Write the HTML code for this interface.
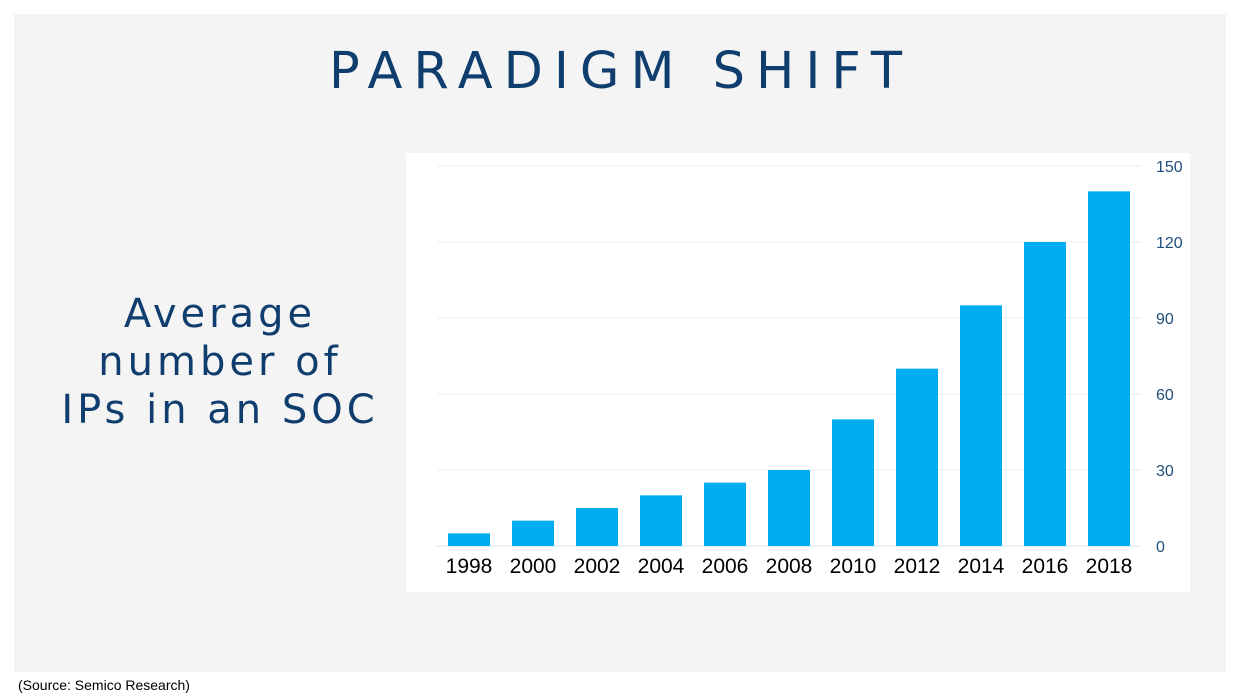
<!DOCTYPE html>
<html><head><meta charset="utf-8"><style>
body{margin:0;width:1242px;height:696px;background:#fff;position:relative;overflow:hidden;font-family:"Liberation Sans",sans-serif}
#slide{position:absolute;left:14px;top:14px;width:1212px;height:658px;background:#f4f4f4}
#title{position:absolute;left:0;top:42px;width:1242px;text-align:center;font-family:"DejaVu Sans",sans-serif;font-size:51px;letter-spacing:11px;color:#0e3d6e}
#side{position:absolute;left:20px;top:290px;width:400px;text-align:center;font-family:"DejaVu Sans",sans-serif;font-size:40px;line-height:48px;letter-spacing:4px;color:#0e3d6e}
#src{position:absolute;left:18px;top:677px;font-size:14px;color:#000}
svg{position:absolute;left:0;top:0}
</style></head><body>
<div id="slide"></div>
<div id="title">PARADIGM SHIFT</div>
<div id="side">Average<br>number of<br>IPs in an SOC</div>
<div id="src">(Source: Semico Research)</div>
<svg width="1242" height="696">
<rect x="406" y="153" width="784" height="439" fill="#fff"/>
<g id="grid"></g><g id="bars"></g><g id="labels"></g>
</svg>
<script>
const years=["1998","2000","2002","2004","2006","2008","2010","2012","2014","2016","2018"];
const values=[5,10,15,20,25,30,50,70,95,120,140];
const ticks=[0,30,60,90,120,150];
const ns="http://www.w3.org/2000/svg";
const y0=546,pxPer=76/30;
function y(v){return y0-v*pxPer;}
function x(i){return 469+i*64;}
const grid=document.getElementById('grid'),bars=document.getElementById('bars'),labels=document.getElementById('labels');
ticks.forEach(t=>{
 const l=document.createElementNS(ns,'line');
 l.setAttribute('x1',437);l.setAttribute('x2',1141);l.setAttribute('y1',y(t));l.setAttribute('y2',y(t));
 l.setAttribute('stroke',t===0?'#d6e6f0':'#ececec');l.setAttribute('stroke-width',1);
 
 
 grid.appendChild(l);
 const tx=document.createElementNS(ns,'text');
 tx.setAttribute('x',1156);tx.setAttribute('y',y(t)+6);tx.setAttribute('font-size',16);tx.setAttribute('fill','#1f4e79');
 tx.textContent=t;
 
 
 labels.appendChild(tx);
});
values.forEach((v,i)=>{
 const r=document.createElementNS(ns,'rect');
 r.setAttribute('x',x(i)-21);r.setAttribute('width',42);r.setAttribute('y',y(v));r.setAttribute('height',y0-y(v));
 r.setAttribute('fill','#00aeef');
 
 
 bars.appendChild(r);
 const tx=document.createElementNS(ns,'text');
 tx.setAttribute('x',x(i));tx.setAttribute('y',573);tx.setAttribute('font-size',21);tx.setAttribute('text-anchor','middle');tx.setAttribute('fill','#000');
 tx.textContent=years[i];
 
 
 labels.appendChild(tx);
});
</script>
</body></html>
